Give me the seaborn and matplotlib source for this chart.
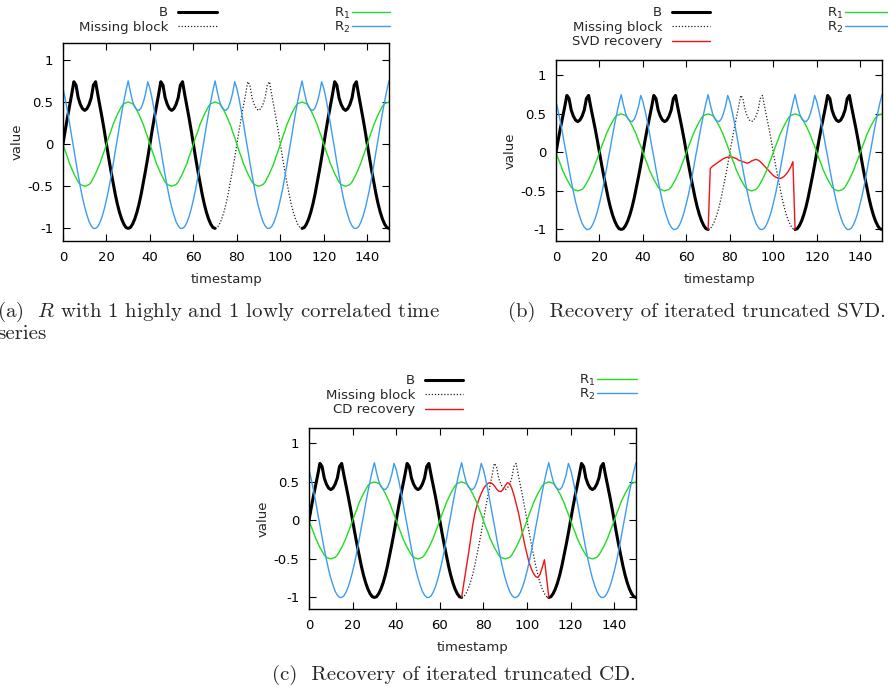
import numpy as np
import pandas as pd
import matplotlib
matplotlib.use('Agg')
import matplotlib.pyplot as plt
from matplotlib.lines import Line2D
import seaborn as sns

# ---- data ----
timestamp = np.arange(0, 151)

# B: full series (observed outside the missing block, dotted inside it)
b_series = [
    0.00, 0.16, 0.31, 0.45, 0.59, 0.74, 0.70, 0.55, 0.47, 0.42,
    0.40, 0.42, 0.47, 0.55, 0.70, 0.74, 0.59, 0.45, 0.31, 0.16,
    0.00, -0.16, -0.31, -0.45, -0.59, -0.71, -0.81, -0.89, -0.95, -0.99,
    -1.00, -0.99, -0.95, -0.89, -0.81, -0.71, -0.59, -0.45, -0.31, -0.16,
    0.00, 0.16, 0.31, 0.45, 0.59, 0.74, 0.70, 0.55, 0.47, 0.42,
    0.40, 0.42, 0.47, 0.55, 0.70, 0.74, 0.59, 0.45, 0.31, 0.16,
    0.00, -0.16, -0.31, -0.45, -0.59, -0.71, -0.81, -0.89, -0.95, -0.99,
    -1.00, -0.99, -0.95, -0.89, -0.81, -0.71, -0.59, -0.45, -0.31, -0.16,
    0.00, 0.16, 0.31, 0.45, 0.59, 0.74, 0.70, 0.55, 0.47, 0.42,
    0.40, 0.42, 0.47, 0.55, 0.70, 0.74, 0.59, 0.45, 0.31, 0.16,
    0.00, -0.16, -0.31, -0.45, -0.59, -0.71, -0.81, -0.89, -0.95, -0.99,
    -1.00, -0.99, -0.95, -0.89, -0.81, -0.71, -0.59, -0.45, -0.31, -0.16,
    0.00, 0.16, 0.31, 0.45, 0.59, 0.74, 0.70, 0.55, 0.47, 0.42,
    0.40, 0.42, 0.47, 0.55, 0.70, 0.74, 0.59, 0.45, 0.31, 0.16,
    0.00, -0.16, -0.31, -0.45, -0.59, -0.71, -0.81, -0.89, -0.95, -0.99,
    -1.00,
]

r1_series = [
    0.00, -0.08, -0.15, -0.23, -0.29, -0.35, -0.40, -0.45, -0.48, -0.49,
    -0.50, -0.49, -0.48, -0.45, -0.40, -0.35, -0.29, -0.23, -0.15, -0.08,
    0.00, 0.08, 0.15, 0.23, 0.29, 0.35, 0.40, 0.45, 0.48, 0.49,
    0.50, 0.49, 0.48, 0.45, 0.40, 0.35, 0.29, 0.23, 0.15, 0.08,
    0.00, -0.08, -0.15, -0.23, -0.29, -0.35, -0.40, -0.45, -0.48, -0.49,
    -0.50, -0.49, -0.48, -0.45, -0.40, -0.35, -0.29, -0.23, -0.15, -0.08,
    0.00, 0.08, 0.15, 0.23, 0.29, 0.35, 0.40, 0.45, 0.48, 0.49,
    0.50, 0.49, 0.48, 0.45, 0.40, 0.35, 0.29, 0.23, 0.15, 0.08,
    0.00, -0.08, -0.15, -0.23, -0.29, -0.35, -0.40, -0.45, -0.48, -0.49,
    -0.50, -0.49, -0.48, -0.45, -0.40, -0.35, -0.29, -0.23, -0.15, -0.08,
    0.00, 0.08, 0.15, 0.23, 0.29, 0.35, 0.40, 0.45, 0.48, 0.49,
    0.50, 0.49, 0.48, 0.45, 0.40, 0.35, 0.29, 0.23, 0.15, 0.08,
    0.00, -0.08, -0.15, -0.23, -0.29, -0.35, -0.40, -0.45, -0.48, -0.49,
    -0.50, -0.49, -0.48, -0.45, -0.40, -0.35, -0.29, -0.23, -0.15, -0.08,
    0.00, 0.08, 0.15, 0.23, 0.29, 0.35, 0.40, 0.45, 0.48, 0.49,
    0.50,
]

r2_series = [
    0.66, 0.54, 0.40, 0.25, 0.09, -0.06, -0.22, -0.37, -0.51, -0.64,
    -0.75, -0.84, -0.92, -0.97, -1.00, -1.00, -0.98, -0.93, -0.86, -0.77,
    -0.66, -0.54, -0.40, -0.25, -0.09, 0.06, 0.22, 0.37, 0.51, 0.64,
    0.75, 0.62, 0.51, 0.44, 0.41, 0.40, 0.43, 0.50, 0.60, 0.74,
    0.66, 0.54, 0.40, 0.25, 0.09, -0.06, -0.22, -0.37, -0.51, -0.64,
    -0.75, -0.84, -0.92, -0.97, -1.00, -1.00, -0.98, -0.93, -0.86, -0.77,
    -0.66, -0.54, -0.40, -0.25, -0.09, 0.06, 0.22, 0.37, 0.51, 0.64,
    0.75, 0.62, 0.51, 0.44, 0.41, 0.40, 0.43, 0.50, 0.60, 0.74,
    0.66, 0.54, 0.40, 0.25, 0.09, -0.06, -0.22, -0.37, -0.51, -0.64,
    -0.75, -0.84, -0.92, -0.97, -1.00, -1.00, -0.98, -0.93, -0.86, -0.77,
    -0.66, -0.54, -0.40, -0.25, -0.09, 0.06, 0.22, 0.37, 0.51, 0.64,
    0.75, 0.62, 0.51, 0.44, 0.41, 0.40, 0.43, 0.50, 0.60, 0.74,
    0.66, 0.54, 0.40, 0.25, 0.09, -0.06, -0.22, -0.37, -0.51, -0.64,
    -0.75, -0.84, -0.92, -0.97, -1.00, -1.00, -0.98, -0.93, -0.86, -0.77,
    -0.66, -0.54, -0.40, -0.25, -0.09, 0.06, 0.22, 0.37, 0.51, 0.64,
    0.75,
]

missing_start, missing_end = 70, 110

# recoveries over timestamps 70..110
svd_recovery = [
    -1.00, -0.21, -0.18, -0.16, -0.14, -0.12, -0.10, -0.08, -0.07, -0.06,
    -0.06, -0.06, -0.07, -0.08, -0.10, -0.11, -0.12, -0.13, -0.14, -0.13,
    -0.11, -0.10, -0.09, -0.10, -0.12, -0.15, -0.18, -0.21, -0.24, -0.27,
    -0.30, -0.32, -0.33, -0.34, -0.33, -0.31, -0.28, -0.24, -0.19, -0.12,
    -1.00,
]
cd_recovery = [
    -1.00, -0.82, -0.64, -0.46, -0.27, -0.08, 0.08, 0.19, 0.28, 0.35,
    0.41, 0.45, 0.48, 0.49, 0.48, 0.45, 0.41, 0.38, 0.375, 0.40,
    0.45, 0.49, 0.48, 0.42, 0.33, 0.22, 0.11, -0.03, -0.18, -0.32,
    -0.44, -0.55, -0.63, -0.69, -0.73, -0.74, -0.70, -0.61, -0.51, -0.75,
    -1.00,
]

x_ticks = [0, 20, 40, 60, 80, 100, 120, 140]
y_ticks = [-1, -0.5, 0, 0.5, 1]
y_tick_labels = ['-1', '-0.5', '0', '0.5', '1']

# ---- style ----
W, H = 888, 694
GREEN = '#22dc22'
BLUE = '#3d9cf0'
RED = '#f01414'
FS = 9.5

sns.set_style('ticks')
plt.rcParams['font.family'] = ['DejaVu Sans']
plt.rcParams['axes.unicode_minus'] = False


def px_axes(fig, left, top, right, bottom):
    return fig.add_axes([left / W, 1 - bottom / H, (right - left) / W, (bottom - top) / H])


def key(fig, text_right, x0, x1, y, label, **line_kw):
    # gnuplot-style key entry: right aligned text, then the line sample
    fig.text(text_right / W, 1 - (y + 4.5) / H, label, ha='right', va='baseline', fontsize=FS)
    fig.add_artist(Line2D([x0 / W, x1 / W], [1 - y / H, 1 - y / H],
                          transform=fig.transFigure, **line_kw))


def draw_panel(ax, recovery=None):
    b = np.array(b_series)
    observed = (timestamp <= missing_start) | (timestamp >= missing_end)
    df_obs = pd.DataFrame({'timestamp': timestamp[observed], 'value': b[observed],
                           'segment': (timestamp[observed] >= missing_end).astype(int)})
    sns.lineplot(data=df_obs, x='timestamp', y='value', units='segment', estimator=None,
                 color='black', lw=2.2, ax=ax)

    gap = slice(missing_start, missing_end + 1)
    sns.lineplot(x=timestamp[gap], y=b[gap], color='#222222', lw=0.9,
                 linestyle=(0, (1, 1.5)), ax=ax)
    if recovery is not None:
        sns.lineplot(x=timestamp[gap], y=recovery, color=RED, lw=1.0, ax=ax)

    sns.lineplot(x=timestamp, y=r1_series, color=GREEN, lw=1.0, ax=ax)
    sns.lineplot(x=timestamp, y=r2_series, color=BLUE, lw=1.0, ax=ax)

    ax.set_xlim(0, 150)
    ax.set_ylim(-1.15, 1.2)
    ax.set_xticks(x_ticks)
    ax.set_yticks(y_ticks)
    ax.set_yticklabels(y_tick_labels)
    ax.tick_params(direction='in', top=True, right=True, length=5, width=0.8,
                   labelsize=FS, colors='black')
    ax.tick_params(axis='x', pad=7)
    ax.tick_params(axis='y', pad=7)
    for sp in ax.spines.values():
        sp.set_linewidth(1.0)
        sp.set_color('black')
    ax.set_xlabel('timestamp', fontsize=FS, labelpad=7)
    ax.set_ylabel('value', fontsize=FS, labelpad=3)


fig = plt.figure(figsize=(W / 100, H / 100), dpi=100)

# (a)
ax_a = px_axes(fig, 63, 43, 389, 241)
draw_panel(ax_a)
key(fig, 168, 178, 217, 12, 'B', color='black', lw=2.2)
key(fig, 168, 178, 217, 26, 'Missing block', color='#222222', lw=0.9, linestyle=(0, (1, 1.5)))
key(fig, 350, 352, 390, 12, 'R$_1$', color=GREEN, lw=1.0)
key(fig, 350, 352, 390, 26, 'R$_2$', color=BLUE, lw=1.0)

# (b)
ax_b = px_axes(fig, 556, 60, 882, 241)
draw_panel(ax_b, svd_recovery)
key(fig, 662, 672, 710, 12, 'B', color='black', lw=2.2)
key(fig, 662, 672, 710, 26, 'Missing block', color='#222222', lw=0.9, linestyle=(0, (1, 1.5)))
key(fig, 662, 672, 710, 41, 'SVD recovery', color=RED, lw=1.0)
key(fig, 843, 845, 892, 12, 'R$_1$', color=GREEN, lw=1.0)
key(fig, 843, 845, 892, 26, 'R$_2$', color=BLUE, lw=1.0)

# (c)
ax_c = px_axes(fig, 309, 428, 636, 609)
draw_panel(ax_c, cd_recovery)
key(fig, 415, 425, 463, 380, 'B', color='black', lw=2.2)
key(fig, 415, 425, 463, 394, 'Missing block', color='#222222', lw=0.9, linestyle=(0, (1, 1.5)))
key(fig, 415, 425, 463, 409, 'CD recovery', color=RED, lw=1.0)
key(fig, 595, 597, 637, 379, 'R$_1$', color=GREEN, lw=1.0)
key(fig, 595, 597, 637, 393, 'R$_2$', color=BLUE, lw=1.0)

# captions (caption (a) runs off the left edge, as in the source page)
cap_kw = dict(fontfamily='cmr10', math_fontfamily='cm', fontsize=15, va='baseline', ha='left')
fig.text(-3 / W, 1 - 317 / H, '(a)  $R$ with 1 highly and 1 lowly correlated time', **cap_kw)
fig.text(-3 / W, 1 - 339 / H, 'series', **cap_kw)
fig.text(508 / W, 1 - 317 / H, '(b)  Recovery of iterated truncated SVD.', **cap_kw)
fig.text(272 / W, 1 - 680 / H, '(c)  Recovery of iterated truncated CD.', **cap_kw)

fig.savefig('out.png', dpi=100)
